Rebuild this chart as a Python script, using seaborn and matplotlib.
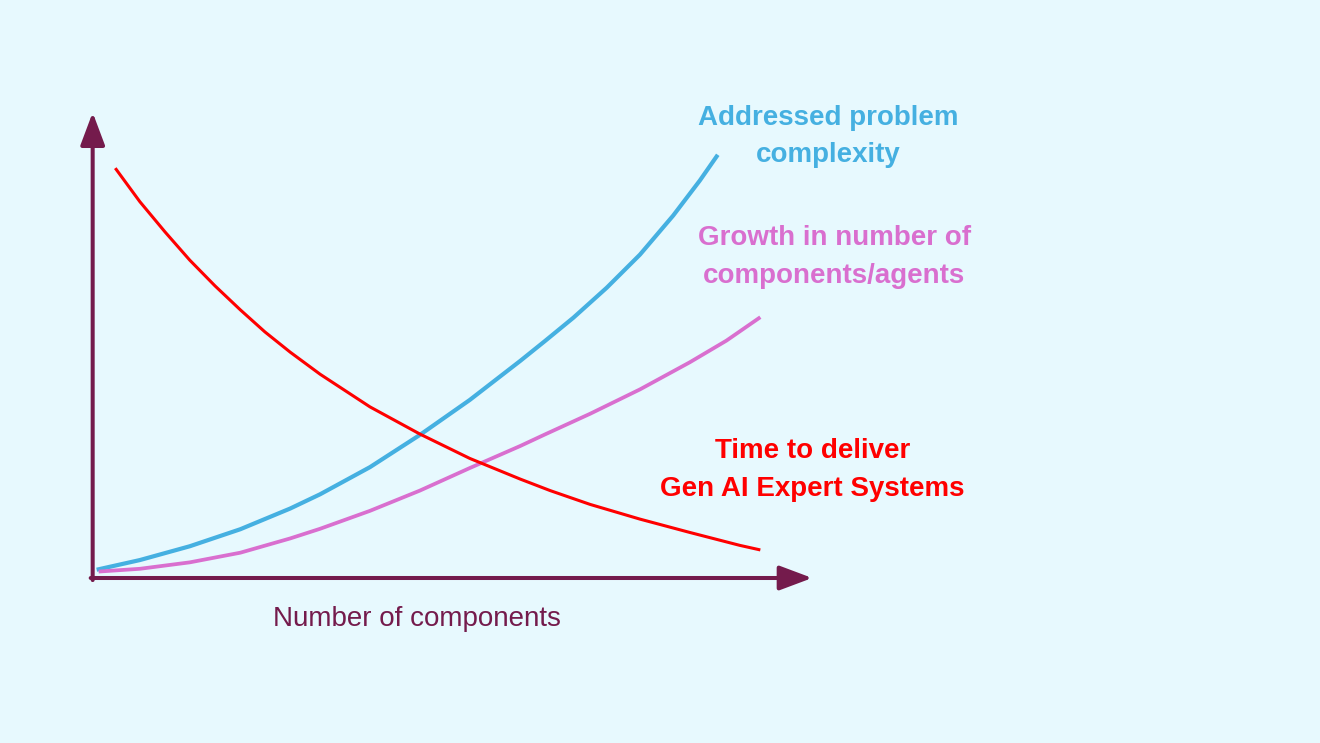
import numpy as np
import pandas as pd
import seaborn as sns
import matplotlib.pyplot as plt

sns.set_theme(style="white")
plt.rcParams['font.family'] = ['Liberation Sans', 'DejaVu Sans']

# curves (x = number of components, y = arbitrary level)
complexity_x = [0.04, 0.69, 1.44, 2.20, 2.95, 3.40, 4.15, 4.90, 5.65, 6.41, 6.78,
                7.21, 7.71, 8.21, 8.71, 9.11, 9.38]
complexity_y = [0.18, 0.39, 0.69, 1.06, 1.51, 1.82, 2.41, 3.11, 3.87, 4.72, 5.15,
                5.66, 6.31, 7.03, 7.88, 8.64, 9.20]

agents_x = [0.07, 0.69, 1.44, 2.20, 2.95, 3.40, 4.15, 4.90, 5.65, 6.41, 6.78,
            7.46, 8.21, 8.96, 9.51, 10.02]
agents_y = [0.14, 0.20, 0.34, 0.55, 0.86, 1.07, 1.46, 1.90, 2.39, 2.87, 3.12,
            3.57, 4.10, 4.69, 5.16, 5.67]

delivery_x = [0.32, 0.69, 1.07, 1.44, 1.82, 2.20, 2.57, 2.95, 3.40, 4.15, 4.90,
              5.65, 6.41, 6.86, 7.46, 8.21, 8.96, 9.71, 10.02]
delivery_y = [8.91, 8.18, 7.52, 6.91, 6.35, 5.83, 5.35, 4.91, 4.43, 3.72, 3.13,
              2.60, 2.15, 1.90, 1.60, 1.28, 0.99, 0.71, 0.61]

complexity_label = "Addressed problem\ncomplexity"
agents_label = "Growth in number of\ncomponents/agents"
delivery_label = "Time to deliver\nGen AI Expert Systems"
x_label = "Number of components"

bg = '#e7f9fe'
axis_col = '#741b4c'
blue = '#45b0e1'
pink = '#d96fcf'
red = '#ff0000'

fig = plt.figure(figsize=(13.2, 7.43), dpi=100, facecolor=bg)
ax = fig.add_axes([94 / 1320, 165 / 743, 10.75 * 66.5 / 1320, 10.1 * 46 / 743])
ax.set_xlim(0, 10.75)
ax.set_ylim(0, 10.1)
ax.axis('off')

sns.lineplot(x=complexity_x, y=complexity_y, ax=ax, color=blue, lw=3.0,
             estimator=None, solid_capstyle='butt')
sns.lineplot(x=agents_x, y=agents_y, ax=ax, color=pink, lw=2.7,
             estimator=None, solid_capstyle='butt')
sns.lineplot(x=delivery_x, y=delivery_y, ax=ax, color=red, lw=2.2,
             estimator=None, solid_capstyle='butt')

# axis arrows
arrow = dict(arrowstyle='-|>,head_length=2.0,head_width=0.75', mutation_scale=10,
             lw=2.9, color=axis_col, shrinkA=0, shrinkB=0)
ax.annotate('', xy=(-0.02, 10.12), xytext=(-0.02, -0.045), arrowprops=arrow, annotation_clip=False)
ax.annotate('', xy=(10.8, 0), xytext=(-0.05, 0), arrowprops=arrow, annotation_clip=False)

ax.text(11.04, 9.60, complexity_label, color=blue, fontsize=20, fontweight='bold',
        ha='center', va='center', linespacing=1.58)
ax.text(11.13, 6.98, agents_label, color=pink, fontsize=20, fontweight='bold',
        ha='center', va='center', linespacing=1.58)
ax.text(10.80, 2.35, delivery_label, color=red, fontsize=20, fontweight='bold',
        ha='center', va='center', linespacing=1.58)
ax.text(4.86, -0.895, x_label, color=axis_col, fontsize=20, ha='center', va='center')

fig.savefig('out.png', dpi=100, facecolor=bg)
